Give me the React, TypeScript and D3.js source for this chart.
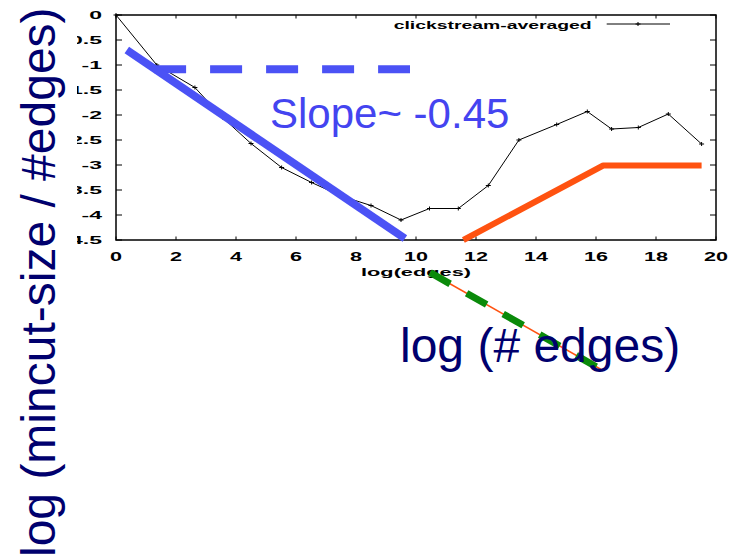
import React from "react";
import * as d3 from "d3";

// ---- data ----
const logEdges = [0, 1.36, 2.63, 3.55, 4.5, 5.52, 6.52, 7.5, 8.5, 9.5, 10.45, 11.41, 12.41, 13.43, 14.69, 15.71, 16.52, 17.41, 18.41, 19.52];
const logMincut = [0, -1.0, -1.45, -2.05, -2.57, -3.05, -3.35, -3.62, -3.81, -4.1, -3.87, -3.87, -3.41, -2.5, -2.19, -1.93, -2.28, -2.25, -1.98, -2.58];
const xTicks = [0, 2, 4, 6, 8, 10, 12, 14, 16, 18, 20];
const yTicks = [0, -0.5, -1, -1.5, -2, -2.5, -3, -3.5, -4, -4.5];
const seriesName = "clickstream-averaged";

// annotation overlays (in chart data coordinates)
const blueFit: [number, number][] = [[0.36, -0.7], [9.63, -4.47]];
const blueDash: [number, number][] = [[1.27, -1.087], [9.8, -1.087]];
const orangeFit: [number, number][] = [[11.58, -4.5], [16.24, -3.01], [19.52, -3.01]];
const greenDash: [number, number][] = [[10.47, -5.15], [16.23, -7.11]];
const slopeText = "Slope~ -0.45";
const bigXLabel = "log (# edges)";
const bigYLabel = "log (mincut-size / #edges)";
const smallXLabel = "log(edges)";

const W = 729;
const H = 556;

export default function App() {
  const x = d3.scaleLinear().domain([0, 20]).range([116, 716]);
  const y = d3.scaleLinear().domain([0, -4.5]).range([15, 240]);
  const line = d3.line<[number, number]>().x((d) => x(d[0])).y((d) => y(d[1]));
  const pts: [number, number][] = logEdges.map((v, i) => [v, logMincut[i]]);
  const [x0, x1] = x.range();
  const [yTop, yBot] = y.range();
  const font = "'Liberation Sans', Arial, sans-serif";

  return (
    <svg width={W} height={H} style={{ position: "absolute", left: 0, top: 0, background: "#fff" }}>
      <defs>
        <clipPath id="chartClip">
          <rect x={77} y={0} width={W - 77} height={H} />
        </clipPath>
      </defs>
      <rect x={0} y={0} width={W} height={H} fill="#fff" />

      {/* big rotated y label */}
      <text
        transform={`translate(55,557) rotate(-90)`}
        textAnchor="start"
        fontFamily={font}
        fontSize={48}
        fill="#00006e"
      >
        {bigYLabel}
      </text>

      {/* gnuplot chart */}
      <g clipPath="url(#chartClip)">
        {xTicks.map((t) => (
          <g key={"xt" + t}>
            <line x1={x(t)} x2={x(t)} y1={yBot} y2={yBot - 3.5} stroke="#000" strokeWidth={1} />
            <line x1={x(t)} x2={x(t)} y1={yTop} y2={yTop + 3.5} stroke="#000" strokeWidth={1} />
            <text
              transform={`translate(${x(t)},261) scale(1.8,1)`}
              textAnchor="middle"
              fontFamily={font}
              fontWeight="bold"
              fontSize={12}
              fill="#000"
            >
              {String(t)}
            </text>
          </g>
        ))}
        {yTicks.map((t) => (
          <g key={"yt" + t}>
            <line x1={x0} x2={x0 + 6} y1={y(t)} y2={y(t)} stroke="#000" strokeWidth={1} />
            <line x1={x1} x2={x1 - 6} y1={y(t)} y2={y(t)} stroke="#000" strokeWidth={1} />
            <text
              transform={`translate(102,${y(t) + 3.6}) scale(2.3,1)`}
              textAnchor="end"
              fontFamily={font}
              fontWeight="bold"
              fontSize={10}
              fill="#000"
            >
              {String(t)}
            </text>
          </g>
        ))}
        <text
          x={x(10)}
          y={276}
          textAnchor="middle"
          fontFamily={font}
          fontWeight="bold"
          fontSize={11.5}
          textLength={110}
          lengthAdjust="spacingAndGlyphs"
          fill="#000"
        >
          {smallXLabel}
        </text>

        {/* legend */}
        <text
          x={591.7}
          y={28.5}
          textAnchor="end"
          fontFamily={font}
          fontWeight="bold"
          fontSize={11}
          textLength={198}
          lengthAdjust="spacingAndGlyphs"
          fill="#000"
        >
          {seriesName}
        </text>
        <line x1={606.7} x2={670} y1={24} y2={24} stroke="#000" strokeWidth={1} />
        <path d={`M${638 - 2.5},24h5M638,${24 - 2}v4`} stroke="#000" strokeWidth={1} />

        {/* series */}
        <path d={line(pts) || ""} fill="none" stroke="#000" strokeWidth={1} />
        {pts.map((p, i) => (
          <path
            key={"m" + i}
            d={`M${x(p[0]) - 2.5},${y(p[1])}h5M${x(p[0])},${y(p[1]) - 2}v4`}
            stroke="#000"
            strokeWidth={1}
          />
        ))}

        <rect x={x0} y={yTop} width={x1 - x0} height={yBot - yTop} fill="none" stroke="#000" strokeWidth={1.5} />
      </g>

      {/* overlays */}
      <path d={line(blueDash) || ""} fill="none" stroke="#4b52f5" strokeWidth={8} strokeDasharray="32 24" />
      <path d={line(blueFit) || ""} fill="none" stroke="#4b52f5" strokeWidth={8} />
      <path d={line(orangeFit) || ""} fill="none" stroke="#ff5210" strokeWidth={6} strokeLinejoin="round" />
      <path d={line(greenDash) || ""} fill="none" stroke="#ff5210" strokeWidth={1.5} />
      <path d={line(greenDash) || ""} fill="none" stroke="#0a8a0a" strokeWidth={7} strokeDasharray="23 19" />

      <text x={270} y={128} fontFamily={font} fontSize={42} fill="#4444f0">
        {slopeText}
      </text>
      <text x={400} y={361.7} fontFamily={font} fontSize={48} fill="#00006e">
        {bigXLabel}
      </text>
    </svg>
  );
}
